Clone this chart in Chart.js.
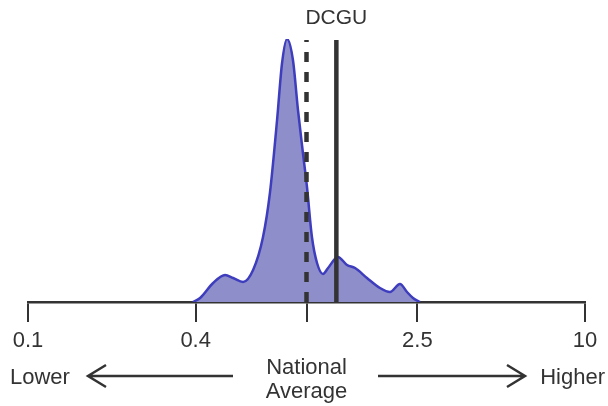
<!DOCTYPE html>
<html>
<head>
<meta charset="utf-8">
<script src="https://cdn.jsdelivr.net/npm/chart.js@4"></script>
<style>
  html, body { margin: 0; padding: 0; background: #ffffff; }
  #wrap { width: 608px; height: 406px; }
</style>
</head>
<body>
<div id="wrap"><canvas id="c" width="608" height="406"></canvas></div>
<script>
// ---- data ----
const densityX = [0.391, 0.415, 0.462, 0.510, 0.545, 0.592, 0.643, 0.698, 0.739, 0.784,
                  0.817, 0.851, 0.894, 0.932, 0.971, 1.004, 1.046, 1.091, 1.146, 1.195,
                  1.297, 1.398, 1.494, 1.649, 1.836, 1.994, 2.166, 2.296, 2.412, 2.556];
const densityY = [0, 4, 19, 27, 24, 20, 32, 65, 109, 182,
                  239, 263, 242, 192, 149, 115, 65, 39, 28, 34,
                  45, 37, 34, 24, 14, 10, 18, 10, 4, 0];
const tickValues = [0.1, 0.4, 1, 2.5, 10];
const tickLabels = ['0.1', '0.4', '', '2.5', '10'];
const nationalAverage = 1.0;
const dcguValue = 1.28;
const markerTop = 262;
const dcguLabel = 'DCGU';
const lowerLabel = 'Lower';
const higherLabel = 'Higher';
const averageLabel = ['National', 'Average'];

const TEXT = '#333333';
const FONT = '"Liberation Sans", Arial, Helvetica, sans-serif';

const densityPoints = densityX.map((x, i) => ({ x: x, y: densityY[i] }));

const annotations = {
  id: 'annotations',
  afterDraw(chart) {
    const ctx = chart.ctx;
    const xs = chart.scales.x;
    const ys = chart.scales.y;
    ctx.save();
    ctx.fillStyle = TEXT;
    ctx.strokeStyle = TEXT;
    // DCGU label
    ctx.font = '21px ' + FONT;
    ctx.textAlign = 'center';
    ctx.textBaseline = 'middle';
    ctx.fillText(dcguLabel, xs.getPixelForValue(dcguValue), 18);
    // bottom texts
    ctx.font = '22px ' + FONT;
    const ax = xs.getPixelForValue(nationalAverage);
    ctx.fillText(averageLabel[0], ax, 368);
    ctx.fillText(averageLabel[1], ax, 392);
    ctx.textAlign = 'left';
    ctx.fillText(lowerLabel, 10, 378);
    ctx.textAlign = 'right';
    ctx.fillText(higherLabel, 605, 378);
    // arrows
    ctx.lineWidth = 2.5;
    ctx.lineCap = 'butt';
    ctx.lineJoin = 'miter';
    const ay = 376;
    ctx.beginPath();
    ctx.moveTo(233, ay); ctx.lineTo(88, ay);
    ctx.moveTo(106, ay - 11); ctx.lineTo(88, ay); ctx.lineTo(106, ay + 11);
    ctx.moveTo(378, ay); ctx.lineTo(525, ay);
    ctx.moveTo(507, ay - 11); ctx.lineTo(525, ay); ctx.lineTo(507, ay + 11);
    ctx.stroke();
    ctx.restore();
  }
};

new Chart(document.getElementById('c'), {
  type: 'line',
  data: {
    datasets: [
      {
        label: 'DCGU',
        data: [{ x: dcguValue, y: 0 }, { x: dcguValue, y: markerTop }],
        borderColor: '#333333',
        borderWidth: 4.5,
        pointRadius: 0,
        fill: false,
        order: 1
      },
      {
        label: 'National Average',
        data: [{ x: nationalAverage, y: 0 }, { x: nationalAverage, y: markerTop }],
        borderColor: '#333333',
        borderWidth: 4.5,
        borderDash: [10, 10],
        pointRadius: 0,
        fill: false,
        order: 2
      },
      {
        label: 'Density',
        data: densityPoints,
        borderColor: '#3d3dbd',
        backgroundColor: '#8e8eca',
        borderWidth: 2.5,
        pointRadius: 0,
        fill: 'origin',
        cubicInterpolationMode: 'monotone',
        order: 3
      }
    ]
  },
  options: {
    responsive: false,
    animation: false,
    events: [],
    layout: { padding: { left: 28, right: 23, top: 39, bottom: 0 } },
    plugins: { legend: { display: false }, tooltip: { enabled: false } },
    scales: {
      x: {
        type: 'logarithmic',
        min: 0.1,
        max: 10,
        afterBuildTicks: (scale) => { scale.ticks = tickValues.map(v => ({ value: v })); },
        afterFit: (scale) => { scale.height = 104; },
        grid: {
          display: true,
          drawOnChartArea: false,
          drawTicks: true,
          tickLength: 20,
          color: '#333333',
          lineWidth: 2
        },
        border: { display: true, color: '#333333', width: 2.5 },
        ticks: {
          autoSkip: false,
          maxRotation: 0,
          padding: 6,
          color: TEXT,
          font: { family: FONT, size: 22 },
          callback: (v) => { const i = tickValues.indexOf(v); return i >= 0 ? tickLabels[i] : ''; }
        }
      },
      y: {
        display: false,
        min: 0,
        max: 263
      }
    }
  },
  plugins: [annotations]
});
</script>
</body>
</html>
